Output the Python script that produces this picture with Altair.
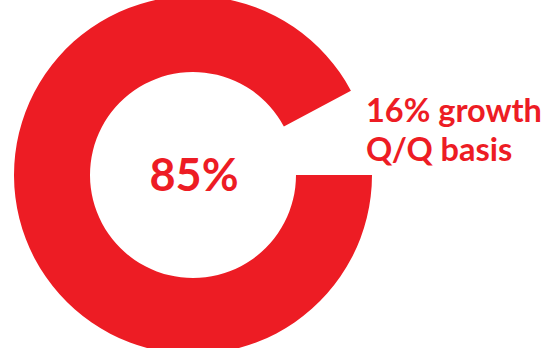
import math
import altair as alt
import pandas as pd

# Ring segments as drawn (filled part vs. open gap), in percent of the circle
segments = ["filled", "gap"]
shares = [92.2, 7.8]
order_idx = [0, 1]

center_label = ["85%"]
side_lines = ["16% growth", "Q/Q basis"]

RED = "#ed1c24"

ring_df = pd.DataFrame({"segment": segments, "share": shares, "idx": order_idx})

ring = alt.Chart(ring_df).mark_arc(radius=179, radius2=103).encode(
    theta=alt.Theta("share:Q", stack=True,
                    scale=alt.Scale(range=[math.pi / 2, math.pi / 2 + 2 * math.pi])),
    color=alt.Color("segment:N", scale=alt.Scale(domain=segments, range=[RED, "#ffffff"]), legend=None),
    opacity=alt.Opacity("segment:N", scale=alt.Scale(domain=segments, range=[1, 0]), legend=None),
    order=alt.Order("idx:Q"),
    x=alt.value(193),
    y=alt.value(175),
)

center = alt.Chart(pd.DataFrame({"t": center_label})).mark_text(
    font="Lato", fontWeight="bold", fontSize=45, color=RED, align="center", baseline="alphabetic"
).encode(text="t:N", x=alt.value(194), y=alt.value(191))

side_df = pd.DataFrame({"t": side_lines, "row": [0, 1]})
side1 = alt.Chart(side_df.iloc[[0]]).mark_text(
    font="Lato", fontWeight="bold", fontSize=32.5, color=RED, align="left", baseline="alphabetic"
).encode(text="t:N", x=alt.value(366), y=alt.value(122))
side2 = alt.Chart(side_df.iloc[[1]]).mark_text(
    font="Lato", fontWeight="bold", fontSize=32.5, color=RED, align="left", baseline="alphabetic"
).encode(text="t:N", x=alt.value(366), y=alt.value(161))

chart = alt.layer(ring, center, side1, side2).properties(
    width=552, height=348, padding=0, autosize="none"
).configure_view(stroke=None)

chart.save("out.html", embed_options={"renderer": "svg", "actions": False})
